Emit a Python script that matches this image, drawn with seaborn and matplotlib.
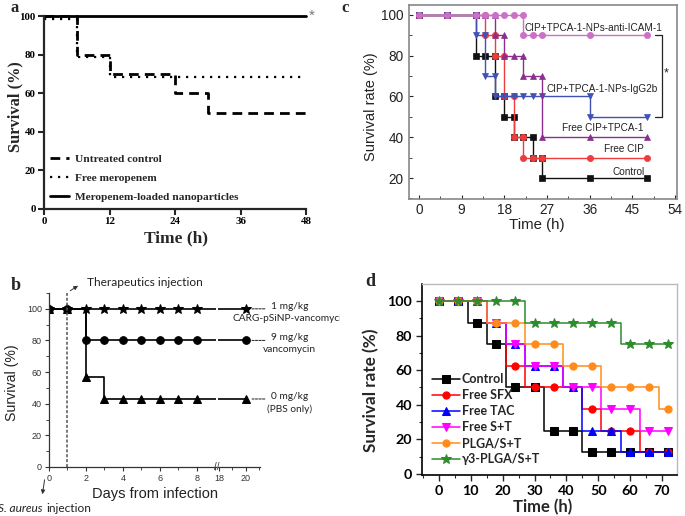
import matplotlib
matplotlib.use('Agg')
import matplotlib.pyplot as plt
import matplotlib.ticker as mticker
from matplotlib.patches import FancyArrowPatch
from matplotlib.font_manager import FontProperties
from matplotlib.transforms import Bbox, TransformedBbox
import seaborn as sns

# ---- panel a: meropenem ----
a_time = [0, 6, 12, 24, 30, 48]
a_control = [100, 80, 70, 60, 50, 50]
a_free = [98.5, 78.5, 68.5, 68.5, 68.5, 68.5]
a_np = [100, 100, 100, 100, 100, 100]
a_labels = ['Untreated control', 'Free meropenem', 'Meropenem-loaded nanoparticles']

# ---- panel b: vancomycin, days ----
b_days = [0, 1, 2, 3, 4, 5, 6, 7, 8, 20]
b_1mg = [100, 100, 100, 100, 100, 100, 100, 100, 100, 100]
b_9mg = [100, 100, 80, 80, 80, 80, 80, 80, 80, 80]
b_0mg = [100, 100, 57, 43, 43, 43, 43, 43, 43, 43]
b_labels = ['1 mg/kg\nCARG-pSiNP-vancomycin', '9 mg/kg\nvancomycin', '0 mg/kg\n(PBS only)']

# ---- panel c: CIP/TPCA-1 ----
c_ctrl_t = [0, 6, 12, 12, 14, 16, 16, 18, 18, 20, 20, 22, 24, 24, 26, 26, 36, 48]
c_ctrl_y = [100, 100, 100, 80, 80, 80, 60, 60, 50, 50, 40, 40, 40, 30, 30, 20, 20, 20]
c_cip_t = [0, 6, 12, 14, 14, 16, 16, 18, 18, 20, 20, 22, 22, 24, 26, 36, 48]
c_cip_y = [100, 100, 100, 100, 90, 90, 80, 80, 60, 60, 40, 40, 30, 30, 30, 30, 30]
c_igg_t = [0, 6, 12, 12, 14, 14, 16, 16, 18, 20, 22, 24, 26, 36, 36, 48]
c_igg_y = [100, 100, 100, 90, 90, 70, 70, 60, 60, 60, 60, 60, 60, 60, 50, 50]
c_free_t = [0, 6, 12, 14, 16, 16, 18, 18, 20, 22, 22, 24, 26, 26, 36, 48]
c_free_y = [100, 100, 100, 100, 100, 90, 90, 80, 80, 80, 70, 70, 70, 40, 40, 40]
c_icam_t = [0, 6, 12, 14, 16, 18, 20, 22, 22, 24, 26, 36, 48]
c_icam_y = [100, 100, 100, 100, 100, 100, 100, 100, 90, 90, 90, 90, 90]

# ---- panel d: SFX/TAC ----
d_time = [0, 6, 12, 18, 24, 30, 36, 42, 48, 54, 60, 66, 72]
d_control = [100, 100, 87.5, 75, 50, 50, 25, 25, 12.5, 12.5, 12.5, 12.5, 12.5]
d_sfx = [100, 100, 100, 87.5, 62.5, 50, 50, 50, 37.5, 25, 25, 12.5, 12.5]
d_tac = [100, 100, 100, 87.5, 75, 62.5, 62.5, 50, 25, 25, 12.5, 12.5, 12.5]
d_st = [100, 100, 100, 87.5, 75, 62.5, 62.5, 50, 50, 37.5, 37.5, 25, 25]
d_plga = [100, 100, 100, 87.5, 87.5, 75, 75, 62.5, 62.5, 50, 50, 50, 37.5]
d_g3 = [100, 100, 100, 100, 100, 87.5, 87.5, 87.5, 87.5, 87.5, 75, 75, 75]
d_labels = ['Control', 'Free SFX', 'Free TAC', 'Free S+T', 'PLGA/S+T', 'γ3-PLGA/S+T']

sns.set_style('ticks')
plt.rcParams['font.family'] = ['Liberation Sans', 'DejaVu Sans']

W, H = 685, 516
fig = plt.figure(figsize=(W / 100, H / 100), dpi=100)


def box(x0, y0, x1, y1):
    return fig.add_axes([x0 / W, 1 - y1 / H, (x1 - x0) / W, (y1 - y0) / H])


def px(x, y):
    return x / W, 1 - y / H


def style_ticks(ax, fp, color='black'):
    for lab in ax.get_xticklabels() + ax.get_yticklabels():
        lab.set_fontproperties(fp)
        lab.set_color(color)


serif_b = lambda s: FontProperties(family='Liberation Serif', weight='bold', size=s)
arial = lambda s: FontProperties(family='Liberation Sans', size=s)
calib = lambda s, st='normal': FontProperties(family=['Lato', 'DejaVu Sans'], size=s, style=st)
calib_b = lambda s: FontProperties(family=['Lato', 'DejaVu Sans'], weight='bold', size=s)

# ================= panel a =================
ax = box(44, 16, 306, 209)
a_styles = [((3.5, 2.2), 2.0), ((1, 2.6), 1.6), ('', 2.0)]
for vals, lab, (dsh, lw) in zip([a_control, a_free, a_np], a_labels, a_styles):
    sns.lineplot(x=a_time, y=vals, color='black', lw=lw, drawstyle='steps-post',
                 estimator=None, label=lab, ax=ax,
                 linestyle='-' if dsh == '' else (0, dsh))
for ln in ax.lines:
    ln.set_clip_on(False)
ax.set_xlim(0, 48)
ax.set_ylim(0, 100)
ax.set_xticks([0, 12, 24, 36, 48])
ax.set_yticks(range(0, 101, 20))
sns.despine(ax=ax)
for s in ['left', 'bottom']:
    ax.spines[s].set_linewidth(1.6)
ax.tick_params(direction='out', length=4, width=1.5, pad=2)
style_ticks(ax, serif_b(7.8))
ax.set_xlabel('')
ax.set_ylabel('')
ax.legend(loc='lower left', bbox_to_anchor=(-0.015, -0.015), frameon=False,
          prop=serif_b(8.2), handlelength=1.6, labelspacing=0.78, handletextpad=0.6)
ax.text(48.6, 100, '*', fontsize=11, color='#777777', va='center', ha='left')
fig.text(*px(15, 107), 'Survival (%)', rotation=90, ha='center', va='center',
         fontproperties=serif_b(11.8))
fig.text(*px(176, 238), 'Time (h)', ha='center', va='center', fontproperties=serif_b(12.5))
fig.text(*px(15, 8), 'a', ha='center', va='center', fontproperties=serif_b(12))

# ================= panel b =================
axl = box(49, 293, 216, 467)
axr = box(218, 293, 260, 467)
b_marks = ['*', 'o', '^']
for axb in (axl, axr):
    for vals, m in zip([b_1mg, b_9mg, b_0mg], b_marks):
        sns.lineplot(x=b_days, y=vals, color='black', lw=1.2, drawstyle='steps-post',
                     estimator=None, marker=m, markersize=7 if m == '*' else 5.5,
                     mec='black', ax=axb)
    axb.set_ylim(0, 110)
    axb.set_xlabel('')
    axb.set_ylabel('')
    axb.tick_params(direction='out', length=3, width=0.8, colors='#333333', pad=2)
    axb.tick_params(which='minor', direction='out', length=2, width=0.6)
axl.set_xlim(0, 9.03)
axr.set_xlim(17.93, 21.04)
axl.set_xticks([0, 2, 4, 6, 8])
axl.xaxis.set_minor_locator(mticker.MultipleLocator(1))
axl.set_yticks(range(0, 101, 20))
axl.yaxis.set_minor_locator(mticker.MultipleLocator(10))
axr.set_xticks([18, 20])
axr.set_xticks([19, 21], minor=True)
axr.set_yticks([])
for s in ['top', 'right']:
    axl.spines[s].set_visible(False)
for s in ['top', 'right', 'left']:
    axr.spines[s].set_visible(False)
for axb in (axl, axr):
    for s in ['left', 'bottom']:
        axb.spines[s].set_linewidth(0.9)
        axb.spines[s].set_color('#333333')
    style_ticks(axb, arial(6.5), '#333333')
axl.axvline(1, ymin=0, ymax=1, color='#555555', lw=1.1, ls=(0, (2, 1.2)))
fig.text(*px(217, 467), '//', fontsize=7, ha='center', va='center', color='#333333')
for vals, lab in zip([b_1mg, b_9mg, b_0mg], b_labels):
    axr.annotate('', xy=(b_days[-1] + 0.25, vals[-1]), xytext=(21.6, vals[-1]),
                 arrowprops=dict(arrowstyle='-', ls=(0, (2, 1.2)), lw=0.8, color='#333333'),
                 annotation_clip=False)
    t = axr.text(23.25, vals[-1] + 4.5, lab, ha='center', va='top', linespacing=1.45,
                 fontproperties=calib(7.3), color='#222222')
    t.set_clip_box(TransformedBbox(Bbox([[0, 0], [340 / W, 1]]), fig.transFigure))
    t.set_clip_on(True)
axl.annotate('', xy=(1.7, 115.5), xytext=(1.02, 110.5),
             arrowprops=dict(arrowstyle='-|>', lw=0.7, color='#333333', mutation_scale=6),
             annotation_clip=False)
axl.text(2.05, 116.5, 'Therapeutics injection', ha='left', va='center',
         fontproperties=calib(8.6), color='#222222', clip_on=False)
fig.text(*px(12, 383), 'Survival (%)', rotation=90, ha='center', va='center',
         fontproperties=arial(10.2), color='#222222')
fig.text(*px(155, 494), 'Days from infection', ha='center', va='center',
         fontproperties=arial(10.5), color='#222222')
fig.add_artist(FancyArrowPatch(px(45, 477), px(42, 497), transform=fig.transFigure,
                               arrowstyle='-|>', mutation_scale=6, lw=0.7, color='#333333'))
fig.text(*px(43, 508), 'S. aureus', ha='right', va='center',
         fontproperties=calib(8.6, 'italic'), color='#222222')
fig.text(*px(46, 508), 'injection', ha='left', va='center',
         fontproperties=calib(8.6), color='#222222')
fig.text(*px(16, 286), 'b', ha='center', va='center', fontproperties=serif_b(13))

# ================= panel c =================
ax = box(409, 5, 677, 199)
c_series = [
    (c_ctrl_t, c_ctrl_y, 's', '#111111'),
    (c_cip_t, c_cip_y, 'o', '#ee3b3b'),
    (c_igg_t, c_igg_y, 'v', '#3f51b5'),
    (c_free_t, c_free_y, '^', '#8b2f8f'),
    (c_icam_t, c_icam_y, 'o', '#cc6fc6'),
]
for t, y, m, col in c_series:
    sns.lineplot(x=t, y=y, estimator=None, sort=False, marker=m, color=col, lw=1.0,
                 markersize=4.5, mec=col, mew=0.5, ax=ax)
ax.set_xlim(-2.1, 54.4)
ax.set_ylim(9.7, 104.9)
ax.set_xticks(range(0, 55, 9))
ax.xaxis.set_minor_locator(mticker.MultipleLocator(4.5))
ax.set_yticks(range(20, 101, 20))
ax.yaxis.set_minor_locator(mticker.MultipleLocator(10))
ax.tick_params(direction='in', length=3, width=0.8, pad=4)
ax.tick_params(axis='x', pad=3)
ax.tick_params(which='minor', direction='in', length=2, width=0.6)
for s in ax.spines.values():
    s.set_color('#888888')
    s.set_linewidth(1.2)
style_ticks(ax, arial(9.8), '#222222')
ax.set_xlabel('')
ax.set_ylabel('')
ax.text(22.2, 93.6, 'CIP+TPCA-1-NPs-anti-ICAM-1', ha='left', va='center',
        fontproperties=arial(7.2), color='#222222')
ax.text(26.8, 63.7, 'CIP+TPCA-1-NPs-IgG2b', ha='left', va='center',
        fontproperties=arial(7.2), color='#222222')
ax.text(47.4, 44.6, 'Free CIP+TPCA-1', ha='right', va='center',
        fontproperties=arial(7.2), color='#222222')
ax.text(47.4, 34.3, 'Free CIP', ha='right', va='center',
        fontproperties=arial(7.2), color='#222222')
ax.text(47.6, 22.8, 'Control', ha='right', va='center',
        fontproperties=arial(7.2), color='#222222')
x_end = c_icam_t[-1]
ax.plot([x_end + 1.7, x_end + 3.2, x_end + 3.2, x_end + 1.7],
        [c_icam_y[-1], c_icam_y[-1], c_igg_y[-1], c_igg_y[-1]],
        color='#222222', lw=0.9, clip_on=False)
ax.text(x_end + 4.2, (c_icam_y[-1] + c_igg_y[-1]) / 2 + 1.5, '*', ha='center', va='center',
        fontsize=9, color='#222222')
fig.text(*px(371, 107), 'Survival rate (%)', rotation=90, ha='center', va='center',
         fontproperties=arial(10.5), color='#222222')
fig.text(*px(537, 225), 'Time (h)', ha='center', va='center',
         fontproperties=arial(10.8), color='#222222')
fig.text(*px(345, 8), 'c', ha='center', va='center', fontproperties=serif_b(12))

# ================= panel d =================
ax = box(422, 284, 677, 475)
d_marks = ['s', 'o', '^', 'v', 'o', '*']
d_cols = ['#000000', '#ff0000', '#0000ff', '#ff00ff', '#ff8c1a', '#2e8b2e']
for vals, lab, m, col in zip([d_control, d_sfx, d_tac, d_st, d_plga, d_g3], d_labels, d_marks, d_cols):
    sns.lineplot(x=d_time, y=vals, estimator=None, drawstyle='steps-mid', marker=m,
                 color=col, lw=1.1, markersize=7.5 if m == '*' else 5.2, mec=col,
                 label=lab, ax=ax)
ax.set_xlim(-5.3, 74.7)
ax.set_ylim(-0.6, 109.8)
ax.set_xticks(range(0, 71, 10))
ax.xaxis.set_minor_locator(mticker.MultipleLocator(5))
ax.set_yticks(range(0, 101, 20))
ax.yaxis.set_minor_locator(mticker.MultipleLocator(10))
ax.tick_params(direction='out', length=4, width=1.0, pad=3)
ax.tick_params(which='minor', direction='out', length=2.5, width=0.8)
for s in ['left', 'bottom']:
    ax.spines[s].set_color('black')
    ax.spines[s].set_linewidth(1.2)
for s in ['top', 'right']:
    ax.spines[s].set_color('#bbbbbb')
    ax.spines[s].set_linewidth(1.0)
style_ticks(ax, calib_b(10.3), 'black')
ax.set_xlabel('')
ax.set_ylabel('')
ax.legend(loc='lower left', bbox_to_anchor=(0.0, 0.0), frameon=False,
          prop=calib_b(9), handlelength=2.2, labelspacing=0.32, handletextpad=0.2,
          borderpad=0.3)
fig.text(*px(371, 390), 'Survival rate (%)', rotation=90, ha='center', va='center',
         fontproperties=calib_b(12.3))
fig.text(*px(543, 507), 'Time (h)', ha='center', va='center', fontproperties=calib_b(12))
fig.text(*px(370, 281), 'd', ha='center', va='center', fontproperties=serif_b(13))

fig.savefig('out.png', dpi=100)
